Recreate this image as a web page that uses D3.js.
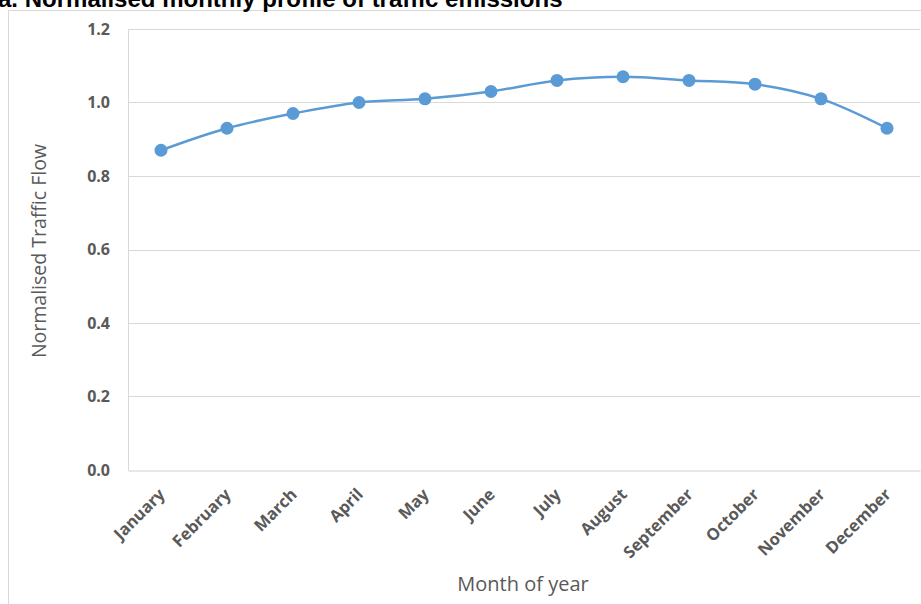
<!DOCTYPE html>
<html>
<head>
<meta charset="utf-8">
<script src="https://cdn.jsdelivr.net/npm/d3@7"></script>
<style>
html,body{margin:0;padding:0;background:#fff;overflow:hidden;}
</style>
</head>
<body>
<svg id="chart" width="921" height="604"></svg>
<script>
const months = ["January","February","March","April","May","June","July","August","September","October","November","December"];
const trafficFlow = [0.87,0.93,0.97,1.00,1.01,1.03,1.06,1.07,1.06,1.05,1.01,0.93];
const yTicks = [0.0,0.2,0.4,0.6,0.8,1.0,1.2];
const titleText = "a. Normalised monthly profile of traffic emissions";
const yTitle = "Normalised Traffic Flow";
const xTitle = "Month of year";

const svg = d3.select("#chart");
const W = 921, H = 604;
const m = {left:128, right:1, top:29, bottom:134};

// chart frame
svg.append("path")
  .attr("d", `M8.5,${H} L8.5,10.5 L${W},10.5`)
  .attr("fill","none").attr("stroke","#d9d9d9").attr("stroke-width",1);

const x = d3.scaleBand().domain(months).range([m.left, W - m.right]);
const y = d3.scaleLinear().domain([0,1.2]).range([H - m.bottom, m.top]);

// gridlines
svg.append("g").selectAll("line").data(yTicks.filter(d=>d>0)).join("line")
  .attr("x1", m.left).attr("x2", W - m.right)
  .attr("y1", d=>Math.round(y(d))+0.5).attr("y2", d=>Math.round(y(d))+0.5)
  .attr("stroke","#d9d9d9").attr("stroke-width",1);

// y axis
const yAxis = svg.append("g").attr("transform",`translate(${m.left},0)`)
  .call(d3.axisLeft(y).tickValues(yTicks).tickFormat(d3.format(".1f")).tickSize(0).tickPadding(18));
yAxis.select(".domain").attr("stroke","#d9d9d9");
yAxis.selectAll("text").attr("font-family","'Open Sans', sans-serif").attr("font-size",16)
  .attr("font-weight","bold").attr("fill","#595959");

// x axis
const xAxis = svg.append("g").attr("transform",`translate(0,${Math.round(y(0))+0.5})`)
  .call(d3.axisBottom(x).tickSize(0).tickPadding(0));
xAxis.select(".domain").attr("stroke","#d0d0d0");
xAxis.selectAll("text")
  .attr("font-family","'Open Sans', sans-serif").attr("font-size",16.5)
  .attr("font-weight","bold").attr("fill","#595959")
  .attr("text-anchor","end").attr("dy",null).attr("y",0)
  .attr("transform","translate(5,25) rotate(-45)");

// line
const line = d3.line()
  .x((d,i)=>x(months[i]) + x.bandwidth()/2)
  .y(d=>y(d))
  .curve(d3.curveCatmullRom.alpha(0.5));
svg.append("path").datum(trafficFlow)
  .attr("d", line).attr("fill","none").attr("stroke","#5b9bd5").attr("stroke-width",2.5);

svg.append("g").selectAll("circle").data(trafficFlow).join("circle")
  .attr("cx",(d,i)=>x(months[i]) + x.bandwidth()/2)
  .attr("cy",d=>y(d)).attr("r",6.5)
  .attr("fill","#5b9bd5");

// axis titles
svg.append("text").attr("transform",`translate(46,251) rotate(-90)`)
  .attr("text-anchor","middle").attr("font-family","'Open Sans', sans-serif")
  .attr("font-size",19.5).attr("fill","#595959").text(yTitle);
svg.append("text").attr("x",523).attr("y",591)
  .attr("text-anchor","middle").attr("font-family","'Open Sans', sans-serif")
  .attr("font-size",20).attr("fill","#595959").text(xTitle);

// title (clipped at top, as in the reference)
const t = svg.append("text").attr("x",-2).attr("y",7)
  .attr("font-family","'Liberation Sans', Arial, sans-serif").attr("font-weight","bold")
  .attr("font-size",18).attr("fill","#000").text(titleText);
const len = t.node().getComputedTextLength();
t.attr("font-size", 18 * 565 / len);
</script>
</body>
</html>
